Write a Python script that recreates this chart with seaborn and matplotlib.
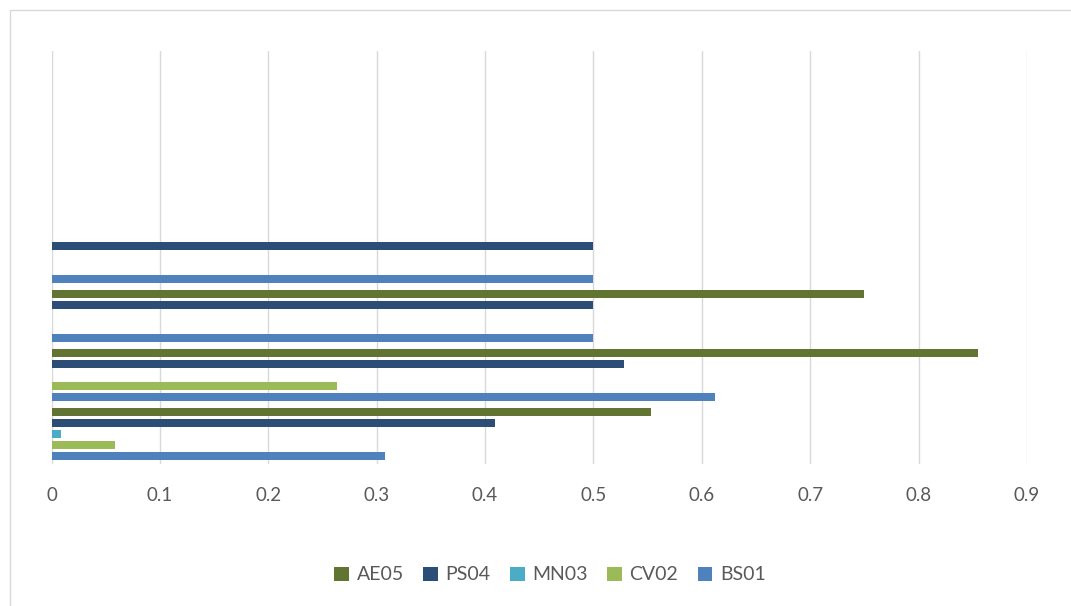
import numpy as np
import pandas as pd
import seaborn as sns
import matplotlib
matplotlib.use("Agg")
import matplotlib.pyplot as plt
from matplotlib.patches import Patch, Rectangle

# Seven categories (bottom to top); the upper three carry no values
categories = ["1", "2", "3", "4", "5", "6", "7"]
bs01 = [0.308, 0.612, 0.5, 0.5, 0.0, 0.0, 0.0]
cv02 = [0.059, 0.263, 0.0, 0.0, 0.0, 0.0, 0.0]
mn03 = [0.009, 0.0, 0.0, 0.0, 0.0, 0.0, 0.0]
ps04 = [0.409, 0.528, 0.5, 0.5, 0.0, 0.0, 0.0]
ae05 = [0.553, 0.855, 0.75, 0.0, 0.0, 0.0, 0.0]

series_names = ["BS01", "CV02", "MN03", "PS04", "AE05"]
series_values = [bs01, cv02, mn03, ps04, ae05]
colors = {
    "BS01": "#4f81bd",
    "CV02": "#9bbb59",
    "MN03": "#4bacc6",
    "PS04": "#2c4d75",
    "AE05": "#617431",
}
x_ticks = [0, 0.1, 0.2, 0.3, 0.4, 0.5, 0.6, 0.7, 0.8, 0.9]
x_tick_labels = ["0", "0.1", "0.2", "0.3", "0.4", "0.5", "0.6", "0.7", "0.8", "0.9"]

rows = []
for name, vals in zip(series_names, series_values):
    for cat, v in zip(categories, vals):
        rows.append({"category": cat, "series": name, "value": v})
df = pd.DataFrame(rows)

sns.set_theme(style="white")
plt.rcParams["font.family"] = ["Lato", "DejaVu Sans"]

fig = plt.figure(figsize=(10.71, 6.06), dpi=100)
ax = fig.add_axes([51.5 / 1071, 1 - 463.7 / 606, (1027 - 51.5) / 1071, (463.7 - 50.5) / 606])

sns.barplot(
    data=df, x="value", y="category", hue="series",
    order=categories, hue_order=series_names, palette=colors,
    orient="h", width=0.932, gap=0.245, linewidth=0, saturation=1,
    errorbar=None, legend=False, ax=ax,
)

# first category at the bottom, like the original layout
ax.set_ylim(-0.5, len(categories) - 0.5)
ax.set_xlim(0, 0.9)
ax.set_xticks(x_ticks)
ax.set_xticklabels(x_tick_labels)
ax.set_yticks([])
ax.set_xlabel("")
ax.set_ylabel("")
ax.grid(axis="x", color="#d9d9d9", linewidth=1.0)
ax.set_axisbelow(True)
for s in ax.spines.values():
    s.set_visible(False)
ax.tick_params(axis="x", length=0, pad=17, labelsize=13.5, labelcolor="#595959")

# outer chart frame
fig.patches.append(Rectangle((10 / 1071, -0.05), 1.0, 1 - 10 / 606 + 0.05,
                             transform=fig.transFigure, fill=False,
                             edgecolor="#d9d9d9", linewidth=1.0))

handles = [Patch(facecolor=colors[n], edgecolor="none") for n in reversed(series_names)]
fig.legend(handles, list(reversed(series_names)), loc="center",
           bbox_to_anchor=(550 / 1071, 1 - 575 / 606), ncol=5, frameon=False,
           fontsize=14, labelcolor="#595959", handlelength=0.75, handleheight=0.75,
           handletextpad=0.4, columnspacing=1.0)

fig.savefig("out.png", dpi=100)
